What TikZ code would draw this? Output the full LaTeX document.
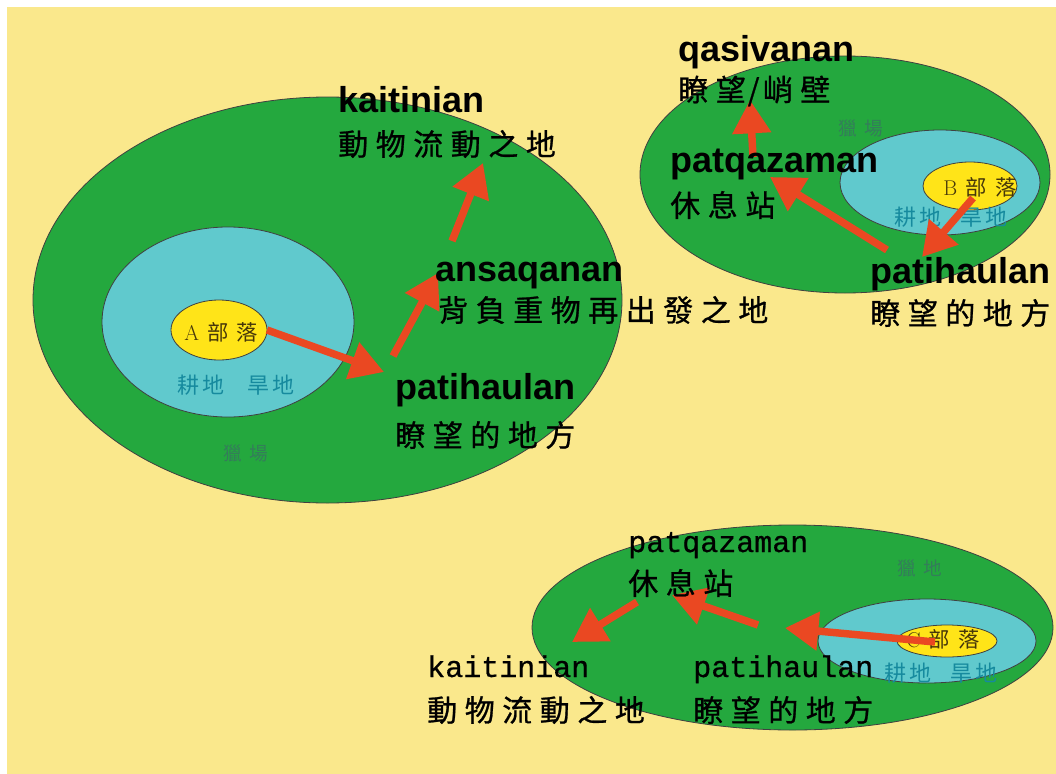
\documentclass[tikz,border=0pt]{standalone}
\usepackage{fontspec}
\usetikzlibrary{arrows.meta}
\newfontfamily\cjkfont[LetterSpace=25,FakeBold=0.8]{Noto Sans CJK TC}
\newfontfamily\cjksmall[LetterSpace=14]{Noto Sans CJK TC}
\newfontfamily\cjkwide[LetterSpace=40]{Noto Sans CJK TC}
\newfontfamily\latfont{Liberation Sans}
\newfontfamily\monofont[FakeBold=0.6]{Liberation Mono}
\definecolor{bgyellow}{RGB}{250,232,140}
\definecolor{fieldgreen}{RGB}{36,168,62}
\definecolor{farmcyan}{RGB}{96,201,205}
\definecolor{tribeyellow}{RGB}{255,228,24}
\definecolor{arrowred}{RGB}{234,72,34}
\definecolor{tribetext}{RGB}{70,55,10}
\definecolor{farmtext}{RGB}{22,138,158}
\definecolor{hunttext}{RGB}{52,125,90}
\tikzset{
  zone/.style={draw=black!75, line width=0.6pt},
  boldlbl/.style={font=\latfont\bfseries\fontsize{27}{30}\selectfont, anchor=base west, inner sep=0pt},
  monolbl/.style={font=\monofont\fontsize{22.5}{26}\selectfont, anchor=base west, inner sep=0pt},
  zhlbl/.style={font=\cjkfont\fontsize{22.5}{26}\selectfont, anchor=west, inner sep=0pt},
  tribelbl/.style={font=\cjkwide\fontsize{16}{18}\selectfont, text=tribetext, inner sep=0pt, anchor=west},
  farmlbl/.style={font=\cjksmall\fontsize{16.5}{18}\selectfont, text=farmtext, inner sep=0pt, anchor=west},
  huntlbl/.style={font=\cjkwide\fontsize{14}{16}\selectfont, text=hunttext, inner sep=0pt, anchor=west},
  route/.style={draw=arrowred, line width=5.6pt, -{Triangle[length=25pt,width=28pt]}, fill=arrowred},
}
\begin{document}
\begin{tikzpicture}[x=0.75pt,y=-0.75pt]
\useasboundingbox (0,0) rectangle (1056,774);
\fill[white] (0,0) rectangle (1056,774);
\fill[bgyellow] (7,7) rectangle (1056,774);

% ---- zone A ----
\filldraw[zone, fill=fieldgreen] (327.5,300) ellipse [x radius=294.5, y radius=203];
\filldraw[zone, fill=farmcyan] (228,322) ellipse [x radius=126, y radius=95];
\filldraw[zone, fill=tribeyellow] (219,330) ellipse [x radius=48, y radius=30];
\node[tribelbl] (tA) at (184,332) {{\rmfamily A}\hspace{6pt}部落};
\node[farmlbl] (fA) at (177,385) {耕地\hspace{17pt}旱地};
\node[huntlbl] (hA) at (223,453) {獵場};

% ---- zone B ----
\filldraw[zone, fill=fieldgreen] (845,174.5) ellipse [x radius=205, y radius=118.5];
\filldraw[zone, fill=farmcyan] (940,182.5) ellipse [x radius=100, y radius=52.5];
\filldraw[zone, fill=tribeyellow] (970,186) ellipse [x radius=47, y radius=24];
\node[tribelbl] (tB) at (943,187) {{\rmfamily B}\hspace{6pt}部落};
\node[farmlbl] (fB) at (894,217) {耕地\hspace{14pt}旱地};
\node[huntlbl] (hB) at (838,128) {獵場};

% ---- zone C ----
\filldraw[zone, fill=fieldgreen] (792.5,627.5) ellipse [x radius=260.5, y radius=102.5];
\filldraw[zone, fill=farmcyan] (927,641) ellipse [x radius=109, y radius=42];
\filldraw[zone, fill=tribeyellow] (947,641) ellipse [x radius=50, y radius=16];
\node[tribelbl] (tC) at (906,639) {{\rmfamily C}\hspace{6pt}部落};
\node[farmlbl] (fC) at (884,673) {耕地\hspace{14pt}旱地};
\node[huntlbl] (hC) at (897,568) {獵地};

% ---- arrow end points ----
\coordinate (a1s) at (267,330); \coordinate (a1e) at (384,372);
\coordinate (a2s) at (393,356); \coordinate (a2e) at (438,273);
\coordinate (a3s) at (452,241); \coordinate (a3e) at (483,163);
\coordinate (b1s) at (753,157); \coordinate (b1e) at (750,100);
\coordinate (b2s) at (887,250); \coordinate (b2e) at (770,177);
\coordinate (b3s) at (973,198); \coordinate (b3e) at (922,257);
\coordinate (c1s) at (935,642); \coordinate (c1e) at (785,628);
\coordinate (c2s) at (758,625); \coordinate (c2e) at (672,595);
\coordinate (c3s) at (637,602); \coordinate (c3e) at (572,642);

\draw[route] (a1s) -- (a1e);
\draw[route] (a2s) -- (a2e);
\draw[route] (a3s) -- (a3e);
\draw[route] (b1s) -- (b1e);
\draw[route] (b2s) -- (b2e);
\draw[route] (b3s) -- (b3e);
\draw[route] (c1s) -- (c1e);
\draw[route] (c2s) -- (c2e);
\draw[route] (c3s) -- (c3e);

% ---- labels A ----
\node[boldlbl] (kA) at (338,113) {kaitinian};
\node[zhlbl] (kAz) at (338,144) {動物流動之地};
\node[boldlbl] (nA) at (435,281) {ansaqanan};
\node[zhlbl] (nAz) at (438,310) {背負重物再出發之地};
\node[boldlbl] (pA) at (395,399) {patihaulan};
\node[zhlbl] (pAz) at (395,435) {瞭望的地方};

% ---- labels B ----
\node[boldlbl] (qB) at (678,62) {qasivanan};
\node[zhlbl] (qBz) at (678,91) {瞭望\hspace{1.5pt}/\hspace{2.5pt}峭壁};
\node[boldlbl] (zB) at (670,172) {patqazaman};
\node[zhlbl] (zBz) at (670,205) {休息站};
\node[boldlbl] (pB) at (870,283) {patihaulan};
\node[zhlbl] (pBz) at (870,313) {瞭望的地方};

% ---- labels C ----
\node[monolbl] (zC) at (628,552) {patqazaman};
\node[zhlbl] (zCz) at (628,583) {休息站};
\node[monolbl] (kC) at (427,677) {kaitinian};
\node[zhlbl] (kCz) at (427,710) {動物流動之地};
\node[monolbl] (pC) at (693,677) {patihaulan};
\node[zhlbl] (pCz) at (693,710) {瞭望的地方};
\end{tikzpicture}
\end{document}
